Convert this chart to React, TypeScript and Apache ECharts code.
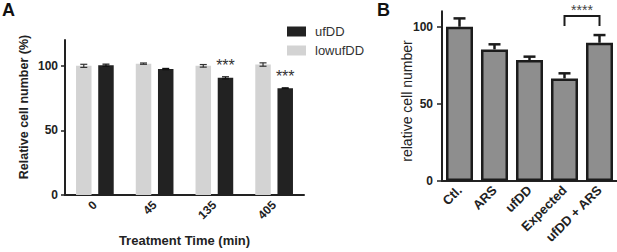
import React, { useEffect, useRef } from "react";
import * as echarts from "echarts";

const aCategories = ["0", "45", "135", "405"];
const aLowufDD = [100, 101.7, 100, 101];
const aLowufDDErr = [1.2, 0.5, 1.0, 1.3];
const aUfDD = [100.5, 97.5, 90.7, 82.7];
const aUfDDErr = [0.8, 0.5, 0.8, 0.3];
const aSignif = ["", "", "***", "***"];
const aYTicks = [0, 50, 100];

const bCategories = ["Ctl.", "ARS", "ufDD", "Expected", "ufDD + ARS"];
const bValues = [100, 85.3, 78.4, 66.5, 89.6];
const bErr = [5.4, 3.3, 2.2, 3.3, 5.0];
const bYTicks = [0, 50, 100];
// [from category, to category, bracket top, leg bottom]
const bBracket = [3, 4, 107, 100.5];
const bBracketText = "****";

const FONT = "'Liberation Sans', Arial, Helvetica, sans-serif";
const INK = "#222";

export default function App() {
  const ref = useRef<HTMLDivElement>(null);
  useEffect(() => {
    document.body.style.margin = "0";
    if (!ref.current) return;
    const chart = echarts.init(ref.current, undefined, { renderer: "svg" });

    const aBarW = 15.5;
    const aGap = 6.7;
    const aOff = (aBarW + aGap) / 2;

    const errA = (offset: number, color: string) => (params: any, api: any) => {
      const i = api.value(0);
      const v = api.value(1);
      const e = api.value(2);
      const top = api.coord([i, v + e]);
      const bot = api.coord([i, v - e]);
      const x = top[0] + offset;
      const cw = 3.5;
      const style = { stroke: color, lineWidth: 1.2 };
      return {
        type: "group",
        children: [
          { type: "line", shape: { x1: x, y1: top[1], x2: x, y2: bot[1] }, style },
          { type: "line", shape: { x1: x - cw, y1: top[1], x2: x + cw, y2: top[1] }, style },
          { type: "line", shape: { x1: x - cw, y1: bot[1], x2: x + cw, y2: bot[1] }, style },
        ],
      };
    };

    const axisLineStyle = { lineStyle: { color: INK, width: 2 } };

    const option: any = {
      animation: false,
      textStyle: { fontFamily: FONT },
      legend: {
        data: ["ufDD", "lowufDD"],
        orient: "vertical",
        left: 282,
        top: 20,
        itemWidth: 19,
        itemHeight: 10,
        itemGap: 6,
        icon: "rect",
        textStyle: { fontSize: 13, color: "#333", fontFamily: FONT, padding: [0, 0, 0, 4] },
      },
      grid: [
        { left: 65, top: 40, width: 239, height: 159 },
        { left: 442, top: 11.3, width: 175, height: 169.7 },
      ],
      xAxis: [
        {
          type: "category",
          gridIndex: 0,
          data: aCategories,
          axisLine: axisLineStyle,
          axisTick: { alignWithLabel: true, length: 5, lineStyle: { color: INK, width: 1.5 } },
          axisLabel: {
            rotate: 45,
            margin: 8,
            interval: 0,
            fontSize: 12,
            fontWeight: "bold",
            color: INK,
            fontFamily: FONT,
          },
          name: "Treatment Time (min)",
          nameLocation: "middle",
          nameGap: 39,
          nameTextStyle: { fontSize: 13, fontWeight: "bold", color: INK, fontFamily: FONT },
        },
        {
          type: "category",
          gridIndex: 1,
          data: bCategories,
          axisLine: axisLineStyle,
          axisTick: { show: false },
          axisLabel: {
            rotate: 45,
            margin: 7,
            interval: 0,
            fontSize: 13,
            fontWeight: "bold",
            color: INK,
            fontFamily: FONT,
          },
        },
      ],
      yAxis: [
        {
          type: "value",
          gridIndex: 0,
          min: 0,
          max: 120,
          axisLine: { show: true, ...axisLineStyle },
          axisTick: { show: true, length: 4, customValues: aYTicks, lineStyle: { color: INK, width: 1.5 } },
          axisLabel: {
            customValues: aYTicks,
            margin: 7,
            fontSize: 12,
            fontWeight: "bold",
            color: INK,
            fontFamily: FONT,
          },
          splitLine: { show: false },
        },
        {
          type: "value",
          gridIndex: 1,
          min: 0,
          max: 110,
          axisLine: { show: true, ...axisLineStyle },
          axisTick: { show: true, length: 5, customValues: bYTicks, lineStyle: { color: INK, width: 1.5 } },
          axisLabel: {
            customValues: bYTicks,
            margin: 9,
            fontSize: 12,
            fontWeight: "bold",
            color: INK,
            fontFamily: FONT,
          },
          splitLine: { show: false },
        },
      ],
      series: [
        {
          name: "lowufDD",
          type: "bar",
          xAxisIndex: 0,
          yAxisIndex: 0,
          data: aLowufDD,
          barWidth: aBarW,
          barGap: ((aGap / aBarW) * 100).toFixed(1) + "%",
          itemStyle: { color: "#d3d3d3" },
        },
        {
          name: "ufDD",
          type: "bar",
          xAxisIndex: 0,
          yAxisIndex: 0,
          barWidth: aBarW,
          data: aUfDD.map((v, i) =>
            aSignif[i]
              ? {
                  value: v,
                  label: {
                    show: true,
                    position: "top",
                    distance: 4,
                    formatter: aSignif[i],
                    fontSize: 16,
                    color: "#333",
                    fontFamily: FONT,
                  },
                }
              : v
          ),
          itemStyle: { color: "#222222" },
        },
        {
          name: "lowufDD err",
          type: "custom",
          xAxisIndex: 0,
          yAxisIndex: 0,
          renderItem: errA(-aOff, "#333"),
          encode: { x: 0, y: 1 },
          data: aLowufDD.map((v, i) => [i, v, aLowufDDErr[i]]),
          z: 5,
        },
        {
          name: "ufDD err",
          type: "custom",
          xAxisIndex: 0,
          yAxisIndex: 0,
          renderItem: errA(aOff, "#111"),
          encode: { x: 0, y: 1 },
          data: aUfDD.map((v, i) => [i, v, aUfDDErr[i]]),
          z: 5,
        },
        {
          name: "B",
          type: "bar",
          xAxisIndex: 1,
          yAxisIndex: 1,
          data: bValues,
          barWidth: 27,
          itemStyle: { color: "#8e8e8e", borderColor: "#1c1c1c", borderWidth: 2.5 },
          z: 3,
        },
        {
          name: "B err",
          type: "custom",
          xAxisIndex: 1,
          yAxisIndex: 1,
          encode: { x: 0, y: 1 },
          data: bValues.map((v, i) => [i, v, bErr[i]]),
          z: 2,
          renderItem: (params: any, api: any) => {
            const i = api.value(0);
            const v = api.value(1);
            const e = api.value(2);
            const top = api.coord([i, v + e]);
            const base = api.coord([i, v]);
            const x = top[0];
            const style = { stroke: "#1c1c1c", lineWidth: 2.5 };
            return {
              type: "group",
              children: [
                { type: "line", shape: { x1: x, y1: top[1], x2: x, y2: base[1] }, style },
                { type: "line", shape: { x1: x - 6, y1: top[1], x2: x + 6, y2: top[1] }, style },
              ],
            };
          },
        },
        {
          name: "B bracket",
          type: "custom",
          xAxisIndex: 1,
          yAxisIndex: 1,
          encode: { x: 0, y: 2 },
          data: [bBracket],
          z: 6,
          renderItem: (params: any, api: any) => {
            const a = api.value(0);
            const b = api.value(1);
            const topV = api.value(2);
            const legV = api.value(3);
            const p1 = api.coord([a, legV]);
            const p2 = api.coord([a, topV]);
            const p3 = api.coord([b, topV]);
            const p4 = api.coord([b, legV]);
            return {
              type: "group",
              children: [
                {
                  type: "polyline",
                  shape: { points: [p1, p2, p3, p4] },
                  style: { stroke: "#1c1c1c", lineWidth: 2, fill: "none" },
                },
                {
                  type: "text",
                  x: (p2[0] + p3[0]) / 2,
                  y: p2[1] - 13,
                  style: {
                    text: bBracketText,
                    font: `14px ${FONT}`,
                    fill: "#444",
                    align: "center",
                    verticalAlign: "top",
                  },
                },
              ],
            };
          },
        },
      ],
      graphic: [
        {
          type: "text",
          x: 2,
          y: 1,
          style: { text: "A", font: `bold 18px ${FONT}`, fill: "#111" },
        },
        {
          type: "text",
          x: 377,
          y: 1,
          style: { text: "B", font: `bold 18px ${FONT}`, fill: "#111" },
        },
        {
          type: "text",
          x: 24,
          y: 107,
          rotation: Math.PI / 2,
          style: {
            text: "Relative cell number (%)",
            font: `bold 12.5px ${FONT}`,
            fill: INK,
            align: "center",
            verticalAlign: "middle",
          },
        },
        {
          type: "text",
          x: 407,
          y: 101,
          rotation: Math.PI / 2,
          style: {
            text: "relative cell number",
            font: `14px ${FONT}`,
            fill: INK,
            align: "center",
            verticalAlign: "middle",
          },
        },
      ],
    };

    chart.setOption(option);
    return () => chart.dispose();
  }, []);

  return <div ref={ref} style={{ width: 617, height: 252 }} />;
}
